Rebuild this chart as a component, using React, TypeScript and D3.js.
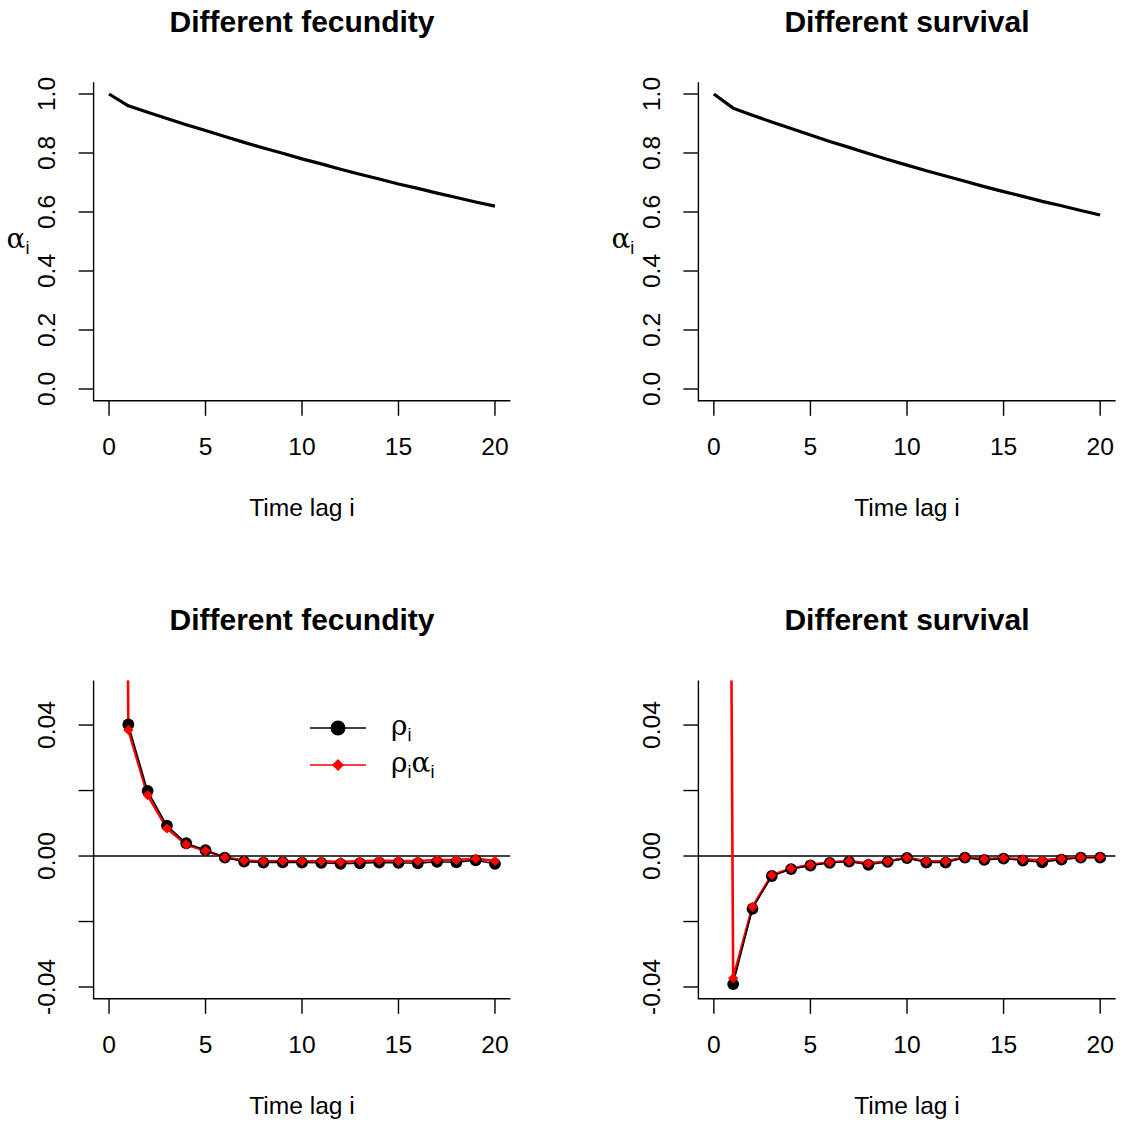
import * as d3 from "d3";
import React from "react";

// lag index
const lags = [0, 1, 2, 3, 4, 5, 6, 7, 8, 9, 10, 11, 12, 13, 14, 15, 16, 17, 18, 19, 20];
const lagsNoZero = lags.slice(1);

// top row: alpha_i
const alphaFecundity = [1.0, 0.96, 0.938, 0.917, 0.896, 0.876, 0.856, 0.836, 0.817, 0.799, 0.78,
  0.763, 0.745, 0.728, 0.712, 0.695, 0.68, 0.664, 0.649, 0.634, 0.62];
const alphaSurvival = [1.0, 0.952, 0.928, 0.905, 0.883, 0.861, 0.839, 0.819, 0.798, 0.778, 0.759,
  0.74, 0.722, 0.704, 0.686, 0.669, 0.653, 0.636, 0.621, 0.605, 0.59];

// bottom row: rho_i (lag 1..20) and rho_i*alpha_i (lag 0..20)
const rhoFecundity = [0.0402, 0.0199, 0.0093, 0.0039, 0.0018, -0.0005, -0.0017, -0.002, -0.0019, -0.002,
  -0.0021, -0.0024, -0.0022, -0.002, -0.0021, -0.0022, -0.0018, -0.0019, -0.0013, -0.0024];
const rhoAlphaFecundity = [1.0, 0.0385, 0.0186, 0.0084, 0.0035, 0.0016, -0.0004, -0.0014, -0.0016, -0.0015, -0.0016,
  -0.0016, -0.0018, -0.0016, -0.0014, -0.0015, -0.0015, -0.0012, -0.0012, -0.0008, -0.0015];
const rhoSurvival = [-0.0391, -0.0161, -0.0061, -0.004, -0.0029, -0.0021, -0.0017, -0.0027, -0.0018, -0.0006,
  -0.002, -0.002, -0.0005, -0.0012, -0.0008, -0.0014, -0.0019, -0.0011, -0.0005, -0.0005];
const rhoAlphaSurvival = [1.0, -0.0373, -0.0155, -0.0058, -0.0038, -0.0027, -0.0019, -0.0015, -0.0022, -0.0016, -0.0005,
  -0.0016, -0.0016, -0.0004, -0.0009, -0.0006, -0.001, -0.0013, -0.0008, -0.0004, -0.0003];

const xTicks = [0, 5, 10, 15, 20];
const alphaTicks = [0, 0.2, 0.4, 0.6, 0.8, 1.0];
const rhoTicks = [-0.04, -0.02, 0, 0.02, 0.04];
const rhoTickLabels = ["-0.04", "", "0.00", "", "0.04"];

const FONT = "'Liberation Sans', Arial, Helvetica, sans-serif";
const GREEK = "'DejaVu Serif', 'Liberation Serif', serif";
const BASE = 24.6;

// R style 4% padding
function pad(lo: number, hi: number): [number, number] {
  const e = (hi - lo) * 0.04;
  return [lo - e, hi + e];
}

function Panel(props: any) {
  const { left, right, top, bottom, title, yTicks, yLabels, ylab, id, children } = props;
  const x = d3.scaleLinear().domain(pad(0, 20)).range([left, right]);
  const y = d3.scaleLinear().domain(props.yDomain).range([bottom, top]);
  const cx = (left + right) / 2;
  return (
    <g>
      <defs>
        <clipPath id={id}>
          <rect x={left} y={top} width={right - left} height={bottom - top} />
        </clipPath>
      </defs>
      {/* title */}
      <text x={cx} y={top - 61} textAnchor="middle" dominantBaseline="central"
        fontFamily={FONT} fontWeight="bold" fontSize={30}>{title}</text>
      {/* L box */}
      <path d={`M${left},${top}V${bottom}H${right}`} fill="none" stroke="black" strokeWidth={1.4} />
      {/* x axis */}
      {xTicks.map(t => (
        <g key={"x" + t}>
          <line x1={x(t)} x2={x(t)} y1={bottom} y2={bottom + 15} stroke="black" strokeWidth={1.4} />
          <text x={x(t)} y={bottom + 46} textAnchor="middle" dominantBaseline="central"
            fontFamily={FONT} fontSize={BASE}>{t}</text>
        </g>
      ))}
      <text x={cx} y={bottom + 107} textAnchor="middle" dominantBaseline="central"
        fontFamily={FONT} fontSize={BASE}>Time lag i</text>
      {/* y axis */}
      {yTicks.map((t: number, i: number) => (
        <g key={"y" + i}>
          <line x1={left} x2={left - 15} y1={y(t)} y2={y(t)} stroke="black" strokeWidth={1.4} />
          <text transform={`translate(${left - 47},${y(t)}) rotate(-90)`} textAnchor="middle"
            dominantBaseline="central" fontFamily={FONT} fontSize={BASE}>{yLabels[i]}</text>
        </g>
      ))}
      {ylab && (
        <text x={left - 87} y={(top + bottom) / 2 + 6} fontFamily={GREEK} fontSize={28}>
          α<tspan fontFamily={FONT} fontSize={18} dy={6}>i</tspan>
        </text>
      )}
      <g clipPath={`url(#${id})`}>{children(x, y)}</g>
    </g>
  );
}

function AlphaLine({ x, y, values }: any) {
  const line = d3.line<number>().x((_, i) => x(lags[i])).y(d => y(d));
  return <path d={line(values) || ""} fill="none" stroke="black" strokeWidth={3.2} strokeLinejoin="round" />;
}

const diamond = d3.symbol().type(d3.symbolSquare).size(52)();
const bigDiamond = d3.symbol().type(d3.symbolSquare).size(72)();

function RhoSeries({ x, y, rho, rhoAlpha }: any) {
  const lineBlack = d3.line<number>().x((_, i) => x(lagsNoZero[i])).y(d => y(d));
  const lineRed = d3.line<number>().x((_, i) => x(lags[i])).y(d => y(d));
  return (
    <g>
      <line x1={x.range()[0]} x2={x.range()[1]} y1={y(0)} y2={y(0)} stroke="black" strokeWidth={1.4} />
      <path d={lineRed(rhoAlpha) || ""} fill="none" stroke="#ff0000" strokeWidth={2.6} />
      <path d={lineBlack(rho) || ""} fill="none" stroke="black" strokeWidth={1.4} />
      {rho.map((d: number, i: number) => (
        <circle key={"c" + i} cx={x(lagsNoZero[i])} cy={y(d)} r={5.9} fill="black" />
      ))}
      {rhoAlpha.map((d: number, i: number) => (
        <path key={"d" + i} d={diamond || ""} fill="#ff0000"
          transform={`translate(${x(lags[i])},${y(d)}) rotate(45)`} />
      ))}
    </g>
  );
}

function Legend({ x0, y0 }: any) {
  const sub = { fontFamily: FONT, fontSize: 18 };
  return (
    <g fontFamily={GREEK}>
      <line x1={x0} x2={x0 + 56} y1={y0} y2={y0} stroke="black" strokeWidth={1.6} />
      <circle cx={x0 + 28} cy={y0} r={7.5} fill="black" />
      <text x={x0 + 81} y={y0 + 7} fontSize={28}>ρ<tspan {...sub} dy={6}>i</tspan></text>
      <line x1={x0} x2={x0 + 56} y1={y0 + 37} y2={y0 + 37} stroke="#ff0000" strokeWidth={1.6} />
      <path d={bigDiamond || ""} fill="#ff0000" transform={`translate(${x0 + 28},${y0 + 37}) rotate(45)`} />
      <text x={x0 + 81} y={y0 + 44} fontSize={28}>
        ρ<tspan {...sub} dy={6}>i</tspan><tspan dy={-6}>α</tspan>
        <tspan {...sub} dy={6}>i</tspan>
      </text>
    </g>
  );
}

export default function App() {
  const cols = [
    { left: 93.6, right: 510.4 },
    { left: 698.4, right: 1115.6 },
  ];
  const topRow = { top: 82.2, bottom: 400.8 };
  const botRow = { top: 680.5, bottom: 998.8 };
  const rhoDomain: [number, number] = pad(-0.04, 0.05);
  const alphaDomain: [number, number] = pad(0, 1);
  const alphaLabels = alphaTicks.map(t => t.toFixed(1));
  return (
    <svg width={1126} height={1124} style={{ position: "absolute", left: 0, top: 0, background: "white" }}>
      <rect width={1126} height={1124} fill="white" />
      <Panel id="c1" {...cols[0]} {...topRow} title="Different fecundity" yDomain={alphaDomain}
        yTicks={alphaTicks} yLabels={alphaLabels} ylab>
        {(x: any, y: any) => <AlphaLine x={x} y={y} values={alphaFecundity} />}
      </Panel>
      <Panel id="c2" {...cols[1]} {...topRow} title="Different survival" yDomain={alphaDomain}
        yTicks={alphaTicks} yLabels={alphaLabels} ylab>
        {(x: any, y: any) => <AlphaLine x={x} y={y} values={alphaSurvival} />}
      </Panel>
      <Panel id="c3" {...cols[0]} {...botRow} title="Different fecundity" yDomain={rhoDomain}
        yTicks={rhoTicks} yLabels={rhoTickLabels}>
        {(x: any, y: any) => <RhoSeries x={x} y={y} rho={rhoFecundity} rhoAlpha={rhoAlphaFecundity} />}
      </Panel>
      <Panel id="c4" {...cols[1]} {...botRow} title="Different survival" yDomain={rhoDomain}
        yTicks={rhoTicks} yLabels={rhoTickLabels}>
        {(x: any, y: any) => <RhoSeries x={x} y={y} rho={rhoSurvival} rhoAlpha={rhoAlphaSurvival} />}
      </Panel>
      <Legend x0={310} y0={728} />
    </svg>
  );
}
